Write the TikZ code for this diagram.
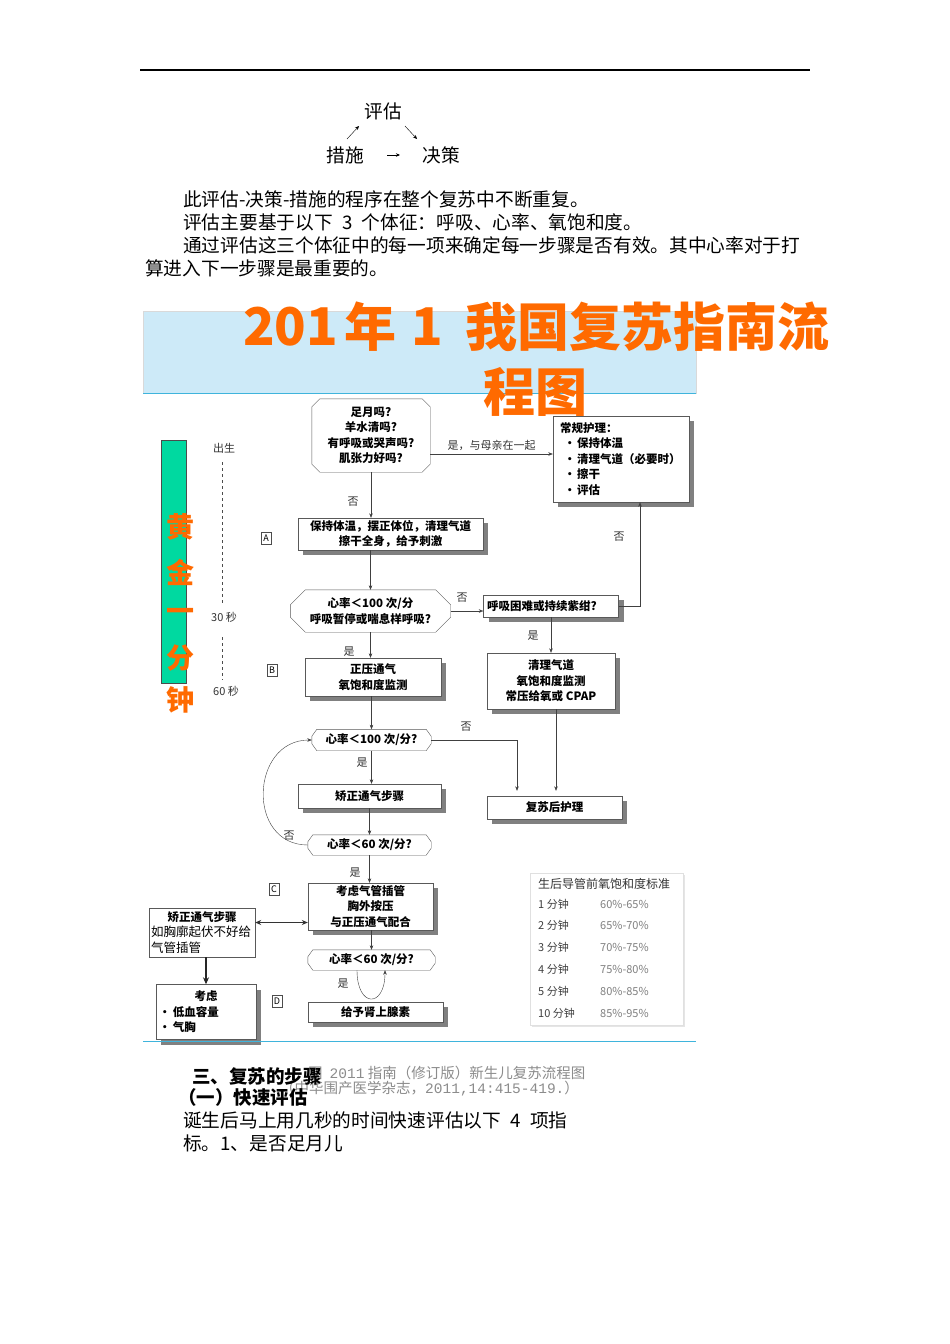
\documentclass[tikz,border=0pt]{standalone}
\usepackage{fontspec}
\setmainfont{Noto Sans CJK SC}
\newfontfamily\monofnt{Liberation Mono}
\usetikzlibrary{shadows,arrows.meta}
\definecolor{titleorange}{HTML}{FF6A00}
\definecolor{bannerblue}{HTML}{CDEAF8}
\definecolor{linecyan}{HTML}{3FB4DC}
\definecolor{bargreen}{HTML}{00D9A0}
\newcommand{\decframe}[3]{%
  \draw[black!65] ([xshift=#2]#1.north west) -- ([xshift=-#2]#1.north east)
    -- ([yshift=-#3]#1.north east) -- ([yshift=#3]#1.south east)
    -- ([xshift=-#2]#1.south east) -- ([xshift=#2]#1.south west)
    -- ([yshift=#3]#1.south west) -- ([yshift=-#3]#1.north west) -- cycle;}
\begin{document}
\begin{tikzpicture}[x=1pt,y=-1pt,
  txt/.style={font=\fontsize{18.7}{22}\selectfont, inner sep=0pt, anchor=west},
  lbl/.style={font=\fontsize{11}{13}\selectfont, inner sep=0pt, text=black!80},
  dec/.style={rectangle, align=center, inner sep=1pt,
    font=\bfseries\fontsize{11.5}{15.5}\selectfont},
  sbox/.style={rectangle, draw=black!65, fill=white, align=center, inner sep=1pt,
    font=\bfseries\fontsize{11.5}{15.5}\selectfont,
    drop shadow={shadow xshift=5pt, shadow yshift=-5pt, fill=black!50, opacity=1}},
  arr/.style={draw=black!75, -{Stealth[length=4.5pt,width=3.5pt]}},
  tag/.style={draw=black!70, inner sep=0.8pt, minimum width=10, minimum height=12,
    font=\fontsize{9}{9}\selectfont},
  gold/.style={text=titleorange, font=\bfseries\fontsize{28}{28}\selectfont, inner sep=0pt},
  head/.style={text=titleorange, font=\bfseries\fontsize{52}{52}\selectfont, inner sep=0pt},
  tab/.style={font=\fontsize{11}{11}\selectfont, inner sep=0pt, anchor=west},
  note/.style={inner sep=0pt, anchor=west, text=black!45, font=\fontsize{14.5}{14.5}\selectfont},
]
\useasboundingbox (0,0) rectangle (950,1344);
\fill[white] (0,0) rectangle (950,1344);

\draw[line width=2.5pt] (140,70) -- (810,70);

\node[txt, anchor=center] (pg) at (383,111) {评估};
\node[txt, anchor=center] (cs) at (345,155) {措施};
\node[txt, anchor=center] (jc) at (441,155) {决策};
\draw[-{Stealth[length=4pt,width=3.5pt]}] ([shift={(2,-16)}]cs.center) -- ([shift={(-24,15)}]pg.center);
\draw[-{Stealth[length=4pt,width=3.5pt]}] ([shift={(22,15)}]pg.center) -- ([shift={(-24,-16)}]jc.center);
\draw[line width=0.8pt, -{Stealth[length=4pt,width=3.5pt]}] ([xshift=42pt]cs.center) -- ([xshift=-41pt]jc.center);

\node[txt] at (183,199) {此评估-决策-措施的程序在整个复苏中不断重复。};
\node[txt] at (183,222) {评估主要基于以下\hspace{0.5em}3\hspace{0.5em}个体征：呼吸、心率、氧饱和度。};
\node[txt] at (183,245) {通过评估这三个体征中的每一项来确定每一步骤是否有效。其中心率对于打};
\node[txt] at (145,268) {算进入下一步骤是最重要的。};

\fill[bannerblue] (143,311) rectangle (696,393);
\draw[black!15] (143,311) rectangle (696,393);
\draw[linecyan, line width=1pt] (143,393) -- (696,393);
\node[head, anchor=west] at (243,327) {201};
\node[head] at (370,327) {年};
\node[head] at (427,327) {1};
\node[head, anchor=west] at (465,327) {我国复苏指南流};
\node[head] at (535,392) {程图};

\fill[bargreen] (161,440) rectangle (186,683);
\draw[black!70] (161,440) rectangle (186,683);
\foreach \ch/\y in {黄/527,金/572,一/615,分/658,钟/700}
  \node[gold] at (180,\y) {\ch};

\node[lbl] at (224,448) {出生};
\draw[black!70, dashed] (222,462) -- (222,605);
\node[lbl] at (224,617) {30 秒};
\draw[black!70, dashed] (222,637) -- (222,680);
\node[lbl] at (226,691) {60 秒};

\node[tag] at (266,538) {A};
\node[tag] at (272,670) {B};
\node[tag] at (274,889) {C};
\node[tag] at (277,1001) {D};

\node[dec, minimum width=118, minimum height=73] (q1) at (371,435.5)
  {足月吗?\\羊水清吗?\\有呼吸或哭声吗?\\肌张力好吗?};
\decframe{q1}{8pt}{8pt}
\node[sbox, align=left, minimum width=136, minimum height=86, text width=122] (care) at (621,459)
  {常规护理：\\
   \hspace*{4pt}\makebox[13pt][l]{•}保持体温\\
   \hspace*{4pt}\makebox[13pt][l]{•}清理气道（必要时）\\
   \hspace*{4pt}\makebox[13pt][l]{•}擦干\\
   \hspace*{4pt}\makebox[13pt][l]{•}评估};
\node[sbox, minimum width=185, minimum height=32] (boxA) at (390.5,534)
  {保持体温，摆正体位，清理气道\\擦干全身，给予刺激};
\node[dec, minimum width=160, minimum height=42] (q2) at (370.5,611)
  {心率＜100 次/分\\呼吸暂停或喘息样呼吸?};
\decframe{q2}{15pt}{15pt}
\node[sbox, align=left, minimum width=135, minimum height=22, text width=128] (hard) at (551,606)
  {呼吸困难或持续紫绀?};
\node[sbox, minimum width=128, minimum height=56] (clear) at (551,681)
  {清理气道\\氧饱和度监测\\常压给氧或 CPAP};
\node[sbox, minimum width=136, minimum height=38] (boxB) at (373,677)
  {正压通气\\氧饱和度监测};
\node[dec, minimum width=119, minimum height=21] (q3) at (371.5,740) {心率＜100 次/分?};
\decframe{q3}{5pt}{7pt}
\node[sbox, minimum width=135, minimum height=23] (post) at (554.5,807.5) {复苏后护理};
\node[sbox, minimum width=143, minimum height=24] (fix) at (369.5,796) {矫正通气步骤};
\node[dec, minimum width=123, minimum height=20] (q4) at (369.5,845) {心率＜60 次/分?};
\decframe{q4}{5pt}{7pt}
\node[sbox, minimum width=125, minimum height=47] (boxC) at (370.5,906.5)
  {考虑气管插管\\胸外按压\\与正压通气配合};
\node[draw=black!65, fill=white, minimum width=106, minimum height=49, text width=102,
  align=left, inner sep=1pt, font=\fontsize{12.5}{15.5}\selectfont] (left) at (202,932.5)
  {\makebox[\linewidth][c]{\bfseries\fontsize{11.5}{15.5}\selectfont 矫正通气步骤}\\如胸廓起伏不好给\\气管插管};
\node[sbox, align=left, minimum width=100, minimum height=55, text width=94] (cons) at (206,1012)
  {\makebox[\linewidth][c]{考虑}\\
   \makebox[14pt][l]{•}低血容量\\
   \makebox[14pt][l]{•}气胸};
\node[dec, minimum width=127, minimum height=20] (q5) at (371.5,960) {心率＜60 次/分?};
\decframe{q5}{5pt}{7pt}
\node[sbox, minimum width=135, minimum height=20] (epi) at (375.5,1012) {给予肾上腺素};

\draw[arr] ([yshift=-18.5pt]q1.east) -- node[lbl, above=3pt] {是，与母亲在一起} ([yshift=-18.5pt]q1.east -| care.west);
\draw[arr] (q1.south) -- (q1.south |- boxA.north);
\draw[arr] (q2 |- boxA.south) -- (q2.north);
\draw[arr] (q2.east) -- (q2.east -| hard.west);
\draw[arr] (hard.east) -| ([xshift=19pt]care.south);
\draw[arr] (hard.south) -- (hard.south |- clear.north);
\draw[arr] (q2.south) -- (q2.south |- boxB.north);
\draw[arr] (q3 |- boxB.south) -- (q3.north);
\draw[arr, shorten >=5pt] (q3.east) -| ([xshift=-37.5pt]post.north);
\draw[arr, shorten >=5pt] ([xshift=5pt]clear.south) -- ([xshift=5pt]clear.south |- post.north);
\draw[arr] (q3.south) -- (q3.south |- fix.north);
\draw[arr] (q4 |- fix.south) -- (q4.north);
\draw[arr] (q4.west) to[out=180, in=180, looseness=1.5] (q3.west);
\draw[arr] (q4.south) -- (q4.south |- boxC.north);
\draw[black!80, line width=0.8pt, {Stealth[length=6pt,width=5pt]}-{Stealth[length=6pt,width=5pt]}]
  ([yshift=10pt]left.east) -- ([yshift=10pt]left.east -| boxC.west);
\draw[black!85, line width=1.2pt, -{Stealth[length=7pt,width=6pt]}] (cons |- left.south) -- (cons.north);
\draw[arr] (q5 |- boxC.south) -- (q5.north);
\draw[arr] ([xshift=-14.5pt]q5.south) .. controls +(0,38) and +(0,38) .. ([xshift=13.5pt]q5.south);

\node[lbl] at (353,502) {否};
\node[lbl] at (462,598) {否};
\node[lbl] at (619,537) {否};
\node[lbl] at (533,636) {是};
\node[lbl] at (349,652) {是};
\node[lbl] at (466,727) {否};
\node[lbl] at (362,763) {是};
\node[lbl] at (289,836) {否};
\node[lbl] at (355,873) {是};
\node[lbl] at (343,984) {是};

\node[draw=black!12, fill=white, minimum width=153, minimum height=152,
  drop shadow={shadow xshift=1.5pt, shadow yshift=-1.5pt, fill=black!10, opacity=1}] (sat) at (606.5,949) {};
\node[font=\fontsize{12}{12}\selectfont, text=black!80, inner sep=0pt] at (604,884) {生后导管前氧饱和度标准};
\foreach \m/\lo/\hi/\y in {1/60/65/904, 2/65/70/925, 3/70/75/947, 4/75/80/969, 5/80/85/991, 10/85/95/1013} {
  \node[tab, text=black!75] at (538,\y) {\m\ 分钟};
  \node[tab, text=black!50] at (600,\y) {\lo\%-\hi\%};
}

\draw[linecyan, line width=0.8pt] (143,1041) -- (696,1041);

\node[note] at (308,1073) {图\hspace{7pt}{\monofnt 2011} 指南（修订版）新生儿复苏流程图};
\node[note] at (280,1089) {（中华围产医学杂志，{\monofnt 2011,14:415-419.}）};
\node[txt, font=\bfseries\fontsize{18.5}{22}\selectfont] at (192,1076) {三、复苏的步骤};
\node[txt, font=\bfseries\fontsize{18.5}{22}\selectfont] at (178,1097) {（一）快速评估};
\node[txt] at (183,1120) {诞生后马上用几秒的时间快速评估以下\hspace{0.5em}4\hspace{0.5em}项指};
\node[txt] at (183,1143) {标。1、是否足月儿};
\end{tikzpicture}
\end{document}
